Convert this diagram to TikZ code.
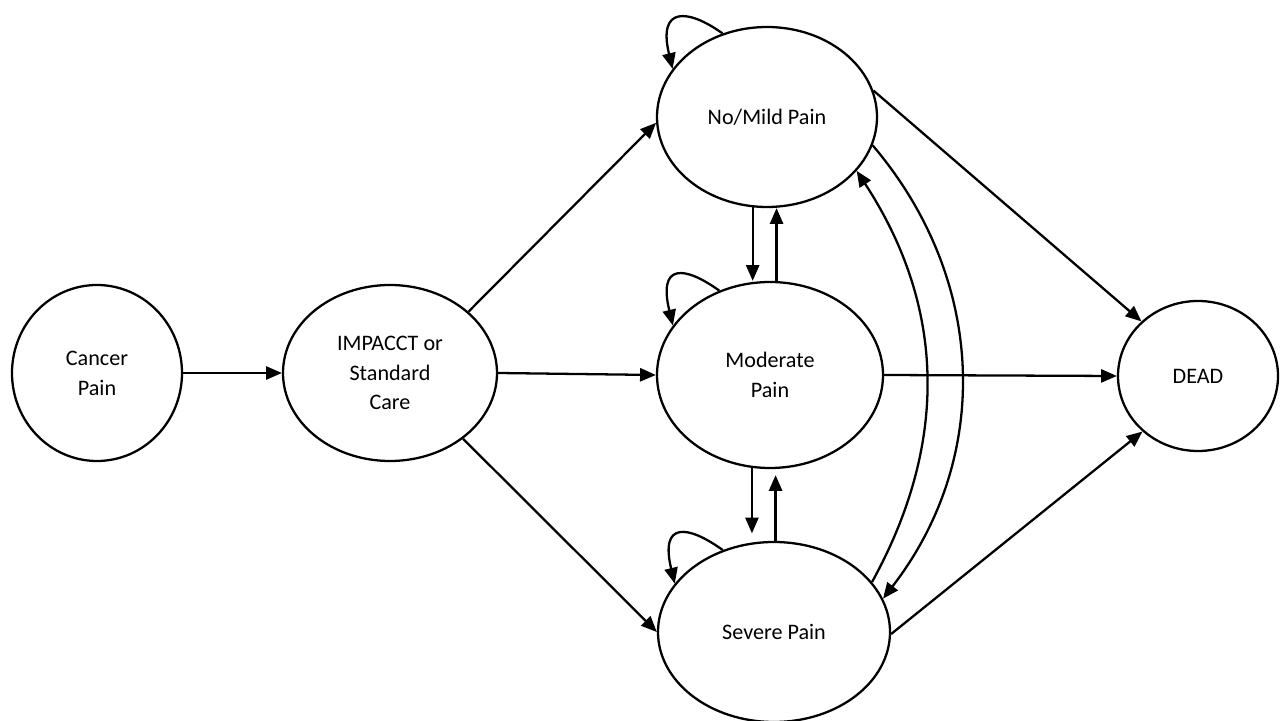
\documentclass[tikz,border=0pt]{standalone}
\usepackage{fontspec}
\setmainfont{Carlito}
\usetikzlibrary{arrows.meta,shapes.geometric}

\tikzset{
  state/.style={draw, ellipse, line width=1.3pt, align=center, inner sep=0pt,
                font=\fontsize{12.6}{17}\selectfont},
  trans/.style={line width=1.3pt, -{Triangle[length=9pt,width=7.5pt]}}
}

\begin{document}
\begin{tikzpicture}
      \useasboundingbox (0,0) rectangle (25.6,14.4);

      % States
      \node[state, minimum width=3.4cm,  minimum height=3.52cm] (cancer)   at (1.94,6.94)  {Cancer\\Pain};
      \node[state, minimum width=4.28cm, minimum height=3.52cm] (impacct)  at (7.8,6.94)   {IMPACCT or\\Standard\\Care};
      \node[state, minimum width=4.4cm,  minimum height=3.6cm]  (mild)     at (15.34,12.06) {No/Mild Pain};
      \node[state, minimum width=4.52cm, minimum height=3.72cm] (moderate) at (15.4,6.9)   {Moderate\\Pain};
      \node[state, minimum width=4.64cm, minimum height=3.6cm]  (severe)   at (15.48,1.76) {Severe Pain};
      \node[state, minimum width=3.2cm,  minimum height=3.0cm]  (dead)     at (23.96,6.88) {DEAD};

      % Entry
      \draw[trans] (cancer.east) -- (impacct.west);
      \draw[trans] (impacct.38) -- (mild.183);
      \draw[trans] (impacct.east) -- (moderate.180);
      \draw[trans] (impacct.-42) -- (severe.west);

      % Death
      \draw[trans] (mild.14) -- (dead.136);
      \draw[trans] (moderate.east) -- (dead.west);
      \draw[trans] (severe.-1) -- (dead.225);

      % Stay in state
      \draw[trans] (mild.118) .. controls +(-0.7,0.5) and +(-0.3,1.25) .. (mild.153);
      \draw[trans] (moderate.121) .. controls +(-0.7,0.5) and +(-0.3,1.25) .. (moderate.153);
      \draw[trans] (severe.122) .. controls +(-0.7,0.5) and +(-0.3,1.25) .. (severe.154);

      % Between pain states
      \draw[trans] (mild.261) -- (mild.261 |- moderate.north);
      \draw[trans] (moderate.86) -- (moderate.86 |- mild.south);
      \draw[trans, shorten >=0.15cm] (moderate.259) -- (moderate.259 |- severe.north);
      \draw[trans, shorten >=0.12cm] (severe.89) -- (severe.89 |- moderate.south);

      \draw[trans] (severe.27) to[bend right=31] (mild.-31);
      \draw[trans] (mild.-15) to[bend left=39] (severe.17);

\end{tikzpicture}
\end{document}
